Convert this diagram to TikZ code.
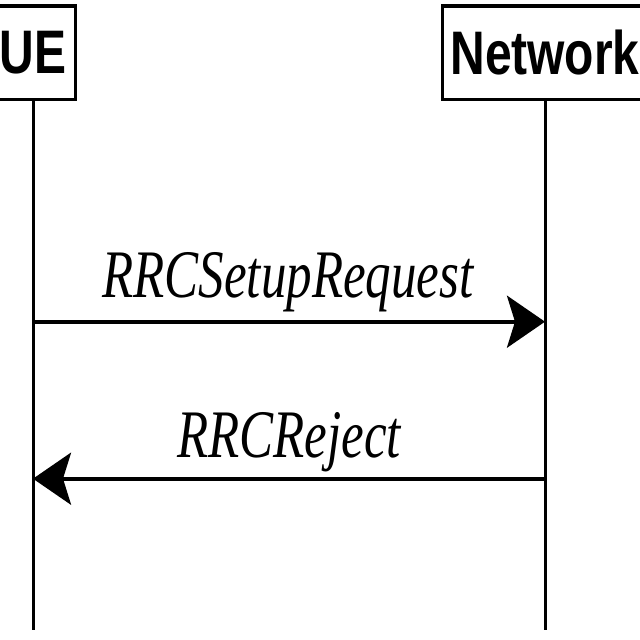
\documentclass[tikz,border=0pt]{standalone}
\usepackage{fontspec}
\setmainfont{Liberation Serif}
\newfontfamily\headfont{Liberation Sans}
\usepackage{graphicx}
\usepackage{tikz}
\usetikzlibrary{arrows.meta, positioning}

\begin{document}
\begin{tikzpicture}[
  x=1pt, y=-1pt,
  actor/.style={draw, line width=3.5pt, inner sep=0pt, minimum height=93.5pt,
    font=\headfont\bfseries\fontsize{61.5}{70}\selectfont},
  msg/.style={anchor=base, inner sep=0pt, font=\itshape\fontsize{68}{80}\selectfont},
  lifeline/.style={line width=3pt},
  sig/.style={line width=4pt, -{Stealth[length=38pt, width=52pt, inset=8pt]}},
]
\useasboundingbox (0,0) rectangle (640,640);
\node[actor, minimum width=85pt] (ue) at (33,52.75) {\scalebox{0.78}[1]{UE}};
\node[actor, minimum width=205.4pt] (nw) at (545,52.75) {\scalebox{0.78}[1]{Network}};
\coordinate (ueend) at (33,630);
\coordinate (nwend) at (545,630);
\draw[lifeline] (ue.south) -- (ueend);
\draw[lifeline] (nw.south) -- (nwend);
% messages
\coordinate (req1) at (33,321.7);
\coordinate (req2) at (545,321.7);
\coordinate (rej1) at (545,478.7);
\coordinate (rej2) at (33,478.7);
\draw[sig] (req1) -- (req2);
\node[msg] (reqlbl) at (288,297) {\scalebox{0.75}[1]{RRCSetupRequest}};
\draw[sig] (rej1) -- (rej2);
\node[msg] (rejlbl) at (289,457) {\scalebox{0.75}[1]{RRCReject}};
\end{tikzpicture}
\end{document}
